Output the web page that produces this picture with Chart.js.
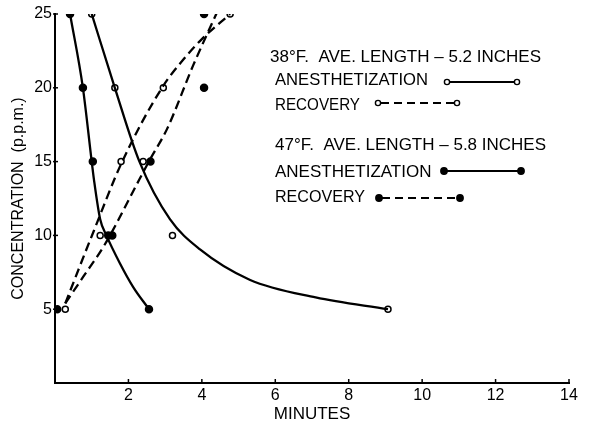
<!DOCTYPE html>
<html><head><meta charset="utf-8">
<script src="https://cdn.jsdelivr.net/npm/chart.js@4"></script>
<style>html,body{margin:0;padding:0;background:#fff}#wrap{width:591px;height:425px}</style>
</head><body><div id="wrap"><canvas id="c" width="591" height="425"></canvas></div>
<script>
// ---- data ----
const xTicks = [2, 4, 6, 8, 10, 12, 14];
const yTicks = [5, 10, 15, 20, 25];

// 38°F anesthetization (open circles, solid)
const anes38Min  = [1.0, 1.63, 2.4, 3.2, 9.07];
const anes38Conc = [25, 20, 15, 10, 5];
// 38°F recovery (open circles, dashed)
const rec38Min  = [0.28, 1.23, 1.8, 2.95, 4.77];
const rec38Conc = [5, 10, 15, 20, 25];
// 47°F anesthetization (filled dots, solid)
const anes47Min  = [0.41, 0.76, 1.03, 1.45, 2.56];
const anes47Conc = [25, 20, 15, 10, 5];
// 47°F recovery (filled dots, dashed)
const rec47Min  = [0.06, 1.56, 2.6, 4.06, 4.06];
const rec47Conc = [5, 10, 15, 20, 25];

// fitted curves
const anes38FitMin  = [1.0, 1.63, 2.3, 3.13, 3.95, 5.3, 7.1, 9.07];
const anes38FitConc = [25, 20, 15, 11.1, 9.05, 7.0, 5.8, 5.0];
const anes47FitMin  = [0.41, 0.76, 1.0, 1.06, 1.23, 1.4, 1.77, 2.13, 2.56];
const anes47FitConc = [25, 20, 15, 13.8, 11.1, 10, 8.1, 6.5, 5.0];
const rec38FitMin  = [0.28, 1.04, 1.83, 2.94, 3.49, 4.0, 4.77];
const rec38FitConc = [5.4, 10.2, 15, 20.1, 21.9, 23.3, 25];
const rec47FitMin  = [0.28, 0.77, 1.36, 2.3, 2.6, 3.05, 3.76, 4.41];
const rec47FitConc = [5.4, 7.2, 9.4, 13.8, 15.2, 17.2, 21.5, 25.1];

const legendLines = [
  "38°F.  AVE. LENGTH – 5.2 INCHES", "ANESTHETIZATION", "RECOVERY",
  "47°F.  AVE. LENGTH – 5.8 INCHES", "ANESTHETIZATION", "RECOVERY"
];
const xTitle = "MINUTES";
const yTitle = "CONCENTRATION  (p.p.m.)";

const pts = (xs, ys) => xs.map((x, i) => ({x, y: ys[i]}));
const FONT = "'Liberation Sans', Arial, sans-serif";

function fitSet(xs, ys, dashed) {
  return {data: pts(xs, ys), showLine: true, borderColor: '#000', borderWidth: 2.3,
    borderDash: dashed ? [9, 5] : [], pointRadius: 0, cubicInterpolationMode: 'monotone', fill: false};
}
function markSet(xs, ys, filled) {
  return {data: pts(xs, ys), showLine: false, pointRadius: filled ? 3.5 : 3,
    pointBorderWidth: 1.5, pointBorderColor: '#000',
    pointBackgroundColor: filled ? '#000' : '#fff'};
}

const extras = {
  id: 'extras',
  afterDraw(chart) {
    const ctx = chart.ctx, xs = chart.scales.x, ys = chart.scales.y;
    ctx.save();
    ctx.strokeStyle = '#000'; ctx.lineWidth = 1.5;
    // inner ticks
    xTicks.forEach(v => { const px = xs.getPixelForValue(v);
      ctx.beginPath(); ctx.moveTo(px, ys.bottom); ctx.lineTo(px, ys.bottom - 4); ctx.stroke(); });
    yTicks.forEach(v => { const py = ys.getPixelForValue(v);
      ctx.beginPath(); ctx.moveTo(xs.left - 2, py); ctx.lineTo(xs.left + 3, py); ctx.stroke(); });
    // legend text
    ctx.fillStyle = '#000';
    ctx.font = "17px " + FONT;
    ctx.textBaseline = 'alphabetic';
    const tx = [270, 275, 275, 275, 275, 275];
    const ty = [62, 85, 110, 150, 177, 202];
    const tw = [273, 153, 85, 273, 157, 90];
    legendLines.forEach((t, i) => ctx.fillText(t, tx[i], ty[i], tw[i]));
    // legend samples
    const samples = [
      {x1: 447, x2: 517, y: 82, dash: false, filled: false},
      {x1: 378, x2: 457, y: 103, dash: true, filled: false},
      {x1: 444, x2: 521, y: 171, dash: false, filled: true},
      {x1: 379, x2: 460, y: 198, dash: true, filled: true}
    ];
    samples.forEach(s => {
      ctx.lineWidth = 1.8;
      ctx.setLineDash(s.dash ? [8, 5] : []);
      ctx.beginPath(); ctx.moveTo(s.x1 + 3, s.y); ctx.lineTo(s.x2 - 3, s.y); ctx.stroke();
      ctx.setLineDash([]);
      [s.x1, s.x2].forEach(cx => {
        ctx.beginPath(); ctx.arc(cx, s.y, s.filled ? 3.2 : 2.6, 0, Math.PI * 2);
        ctx.fillStyle = s.filled ? '#000' : '#fff'; ctx.fill();
        ctx.lineWidth = 1.4; ctx.stroke();
      });
    });
    ctx.restore();
  }
};

new Chart(document.getElementById('c'), {
  type: 'scatter',
  data: {datasets: [
    fitSet(anes38FitMin, anes38FitConc, false),
    fitSet(rec38FitMin, rec38FitConc, true),
    fitSet(anes47FitMin, anes47FitConc, false),
    fitSet(rec47FitMin, rec47FitConc, true),
    markSet(anes38Min, anes38Conc, false),
    markSet(rec38Min, rec38Conc, false),
    markSet(anes47Min, anes47Conc, true),
    markSet(rec47Min, rec47Conc, true)
  ]},
  options: {
    responsive: false, animation: false, devicePixelRatio: 1,
    layout: {padding: {top: 14, right: 22, left: 0, bottom: 0}},
    plugins: {legend: {display: false}, tooltip: {enabled: false}},
    scales: {
      x: {type: 'linear', min: 0, max: 14,
        afterFit(s) { s.height = 42; },
        grid: {display: false, drawTicks: false},
        border: {display: true, color: '#000', width: 2},
        afterBuildTicks(s) { s.ticks = xTicks.map(v => ({value: v})); },
        ticks: {color: '#000', padding: 3, font: {family: FONT, size: 16}, maxRotation: 0, autoSkip: false},
        title: {display: true, text: xTitle, color: '#000', font: {family: FONT, size: 17},
          padding: {top: 0, bottom: 0}}
      },
      y: {type: 'linear', min: 0, max: 25,
        afterFit(s) { s.width = 55; },
        grid: {display: false, drawTicks: false},
        border: {display: true, color: '#000', width: 2},
        afterBuildTicks(s) { s.ticks = yTicks.map(v => ({value: v})); },
        ticks: {color: '#000', padding: 3, font: {family: FONT, size: 16}, autoSkip: false},
        title: {display: true, text: yTitle, color: '#000', font: {family: FONT, size: 16},
          padding: {top: 9, bottom: 0}}
      }
    }
  },
  plugins: [extras]
});
</script>
</body></html>
